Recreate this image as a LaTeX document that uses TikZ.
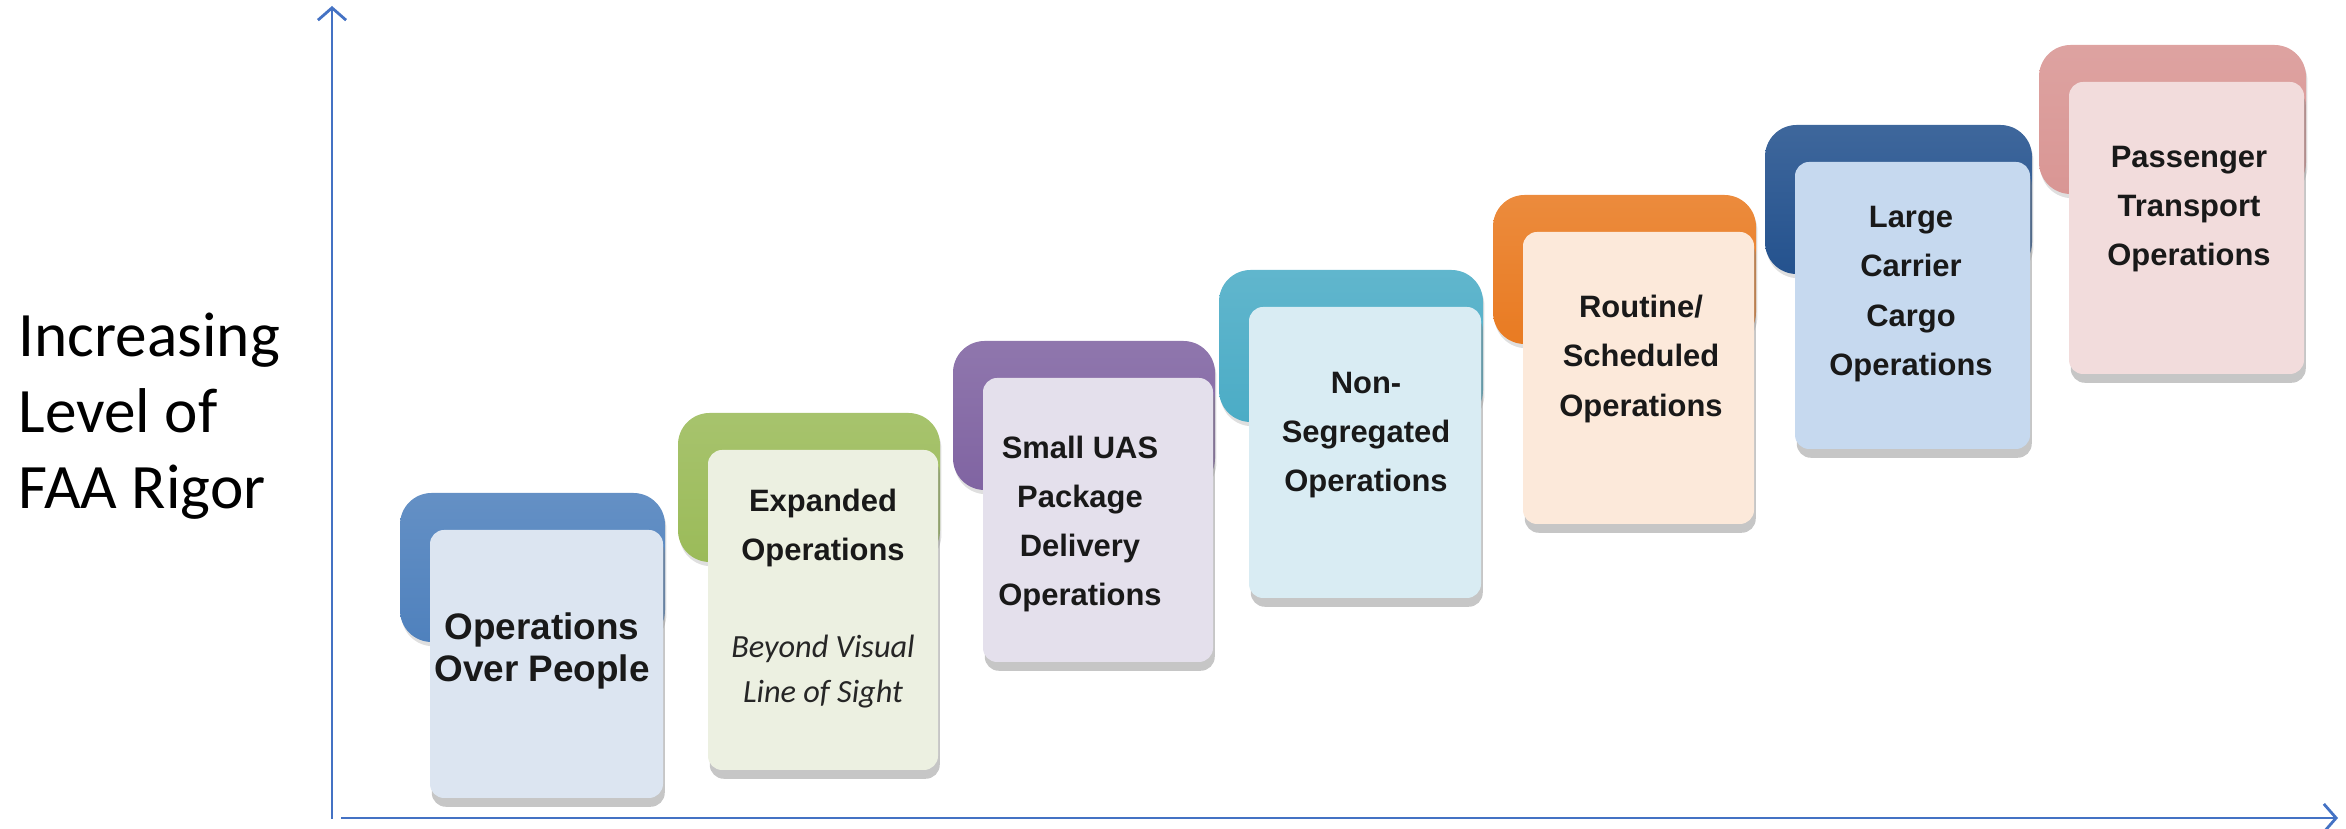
\documentclass[tikz,border=0pt]{standalone}
\usepackage{fontspec}
\setmainfont{Carlito}
\newfontfamily\arialfont{Liberation Sans}
\usetikzlibrary{arrows.meta,shadows}

\definecolor{axisblue}{HTML}{4472C4}
\definecolor{tabblue}{HTML}{4F81BD}
\definecolor{tabgreen}{HTML}{9BBB59}
\definecolor{tabpurple}{HTML}{8064A2}
\definecolor{tabaqua}{HTML}{4BACC6}
\definecolor{taborange}{HTML}{E97B22}
\definecolor{tabnavy}{HTML}{24528E}
\definecolor{tabrose}{HTML}{D99694}
\definecolor{cardblue}{HTML}{DCE5F1}
\definecolor{cardgreen}{HTML}{ECF0E1}
\definecolor{cardpurple}{HTML}{E4E0EC}
\definecolor{cardaqua}{HTML}{D9ECF3}
\definecolor{cardorange}{HTML}{FCE9DA}
\definecolor{cardnavy}{HTML}{C6D9EF}
\definecolor{cardrose}{HTML}{F2DCDC}

\tikzset{
  optab/.style={top color=#1!88!white, middle color=#1, bottom color=#1, rounded corners=9pt,
    drop shadow={shadow xshift=0.4pt, shadow yshift=-1.2pt, opacity=0.25}},
  opcard/.style={fill=#1, rounded corners=4pt,
    drop shadow={shadow xshift=0.5pt, shadow yshift=-2.5pt, opacity=0.45}},
  optext/.style={font=\arialfont\bfseries\fontsize{8.8}{14}\selectfont, align=center, text=black!90},
  opnote/.style={font=\itshape\fontsize{9.2}{12.8}\selectfont, align=center, text=black!85},
  rigoraxis/.style={axisblue, line width=0.8pt, -{Straight Barb[length=3.5pt,width=8pt]}}
}

\begin{document}
\begin{tikzpicture}
  \useasboundingbox (0,0) rectangle (23.46,8.29);

  % axes
  \coordinate (yfoot) at (3.32,0.10);
  \coordinate (ytop) at (3.32,8.23);
  \coordinate (xfoot) at (3.41,0.11);
  \coordinate (xend) at (23.38,0.11);
  \draw [rigoraxis] (yfoot) -- (ytop);
  \draw [rigoraxis] (xfoot) -- (xend);

  \node [anchor=west, align=left, inner sep=0pt, font=\fontsize{18}{21.6}\selectfont] (rigor) at (0.18,4.13) {Increasing\\Level of\\FAA Rigor};

  % the seven steps
  \shade [optab=tabblue] (4.00,1.87) rectangle (6.65,3.36);
  \fill [opcard=cardblue] (4.30,0.31) rectangle (6.63,2.99);
  \node [optext, font=\arialfont\bfseries\fontsize{10.5}{12.2}\selectfont] (t1) at (5.42,1.78) {Operations\\Over People};

  \shade [optab=tabgreen] (6.78,2.67) rectangle (9.40,4.16);
  \fill [opcard=cardgreen] (7.08,0.59) rectangle (9.38,3.79);
  \node [optext] (t2) at (8.23,3.01) {Expanded\\Operations};
  \node [opnote] (t2note) at (8.23,1.57) {Beyond Visual\\Line of Sight};

  \shade [optab=tabpurple] (9.53,3.39) rectangle (12.15,4.88);
  \fill [opcard=cardpurple] (9.83,1.67) rectangle (12.13,4.51);
  \node [optext] (t3) at (10.80,3.05) {Small UAS\\Package\\Delivery\\Operations};

  \shade [optab=tabaqua] (12.19,4.07) rectangle (14.83,5.59);
  \fill [opcard=cardaqua] (12.49,2.31) rectangle (14.81,5.22);
  \node [optext] (t4) at (13.66,3.94) {Non-\\Segregated\\Operations};

  \shade [optab=taborange] (14.93,4.85) rectangle (17.56,6.34);
  \fill [opcard=cardorange] (15.23,3.05) rectangle (17.54,5.97);
  \node [optext] (t5) at (16.41,4.70) {Routine/\\Scheduled\\Operations};

  \shade [optab=tabnavy] (17.65,5.55) rectangle (20.32,7.04);
  \fill [opcard=cardnavy] (17.95,3.80) rectangle (20.30,6.67);
  \node [optext] (t6) at (19.11,5.35) {Large\\Carrier\\Cargo\\Operations};

  \shade [optab=tabrose] (20.39,6.35) rectangle (23.06,7.84);
  \fill [opcard=cardrose] (20.69,4.55) rectangle (23.04,7.47);
  \node [optext] (t7) at (21.89,6.20) {Passenger\\Transport\\Operations};
\end{tikzpicture}
\end{document}
